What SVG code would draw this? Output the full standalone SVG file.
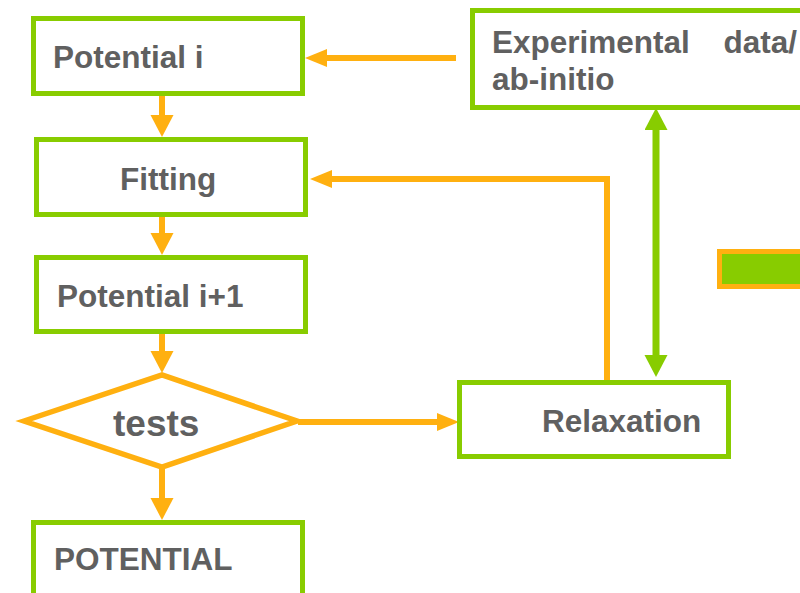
<svg xmlns="http://www.w3.org/2000/svg" width="800" height="593" viewBox="0 0 800 593">
<style>
.box{fill:#fff;stroke:#88CC00;stroke-width:5}
.lbl{font-family:"Liberation Sans",Arial,sans-serif;font-weight:bold;fill:#606060;font-size:31.5px}
.co{fill:none;stroke:#FFB010;stroke-width:6}
.cg{fill:none;stroke:#88CC00;stroke-width:7}
</style>
<defs>
<marker id="ho" markerUnits="userSpaceOnUse" markerWidth="22" markerHeight="24" refX="2" refY="11.5" orient="auto"><path d="M0,0 L22,11.5 L0,23 z" fill="#FFB010"/></marker>
<marker id="hos" markerUnits="userSpaceOnUse" markerWidth="24" markerHeight="20" refX="2" refY="9" orient="auto"><path d="M0,0 L22,9 L0,18 z" fill="#FFB010"/></marker>
<marker id="hg" markerUnits="userSpaceOnUse" markerWidth="22" markerHeight="24" refX="2" refY="11.5" orient="auto-start-reverse"><path d="M0,0 L22,11.5 L0,23 z" fill="#88CC00"/></marker>
</defs>
<rect width="800" height="593" fill="#fff"/>
<g id="connectors">
<line class="co" x1="162" y1="96" x2="162" y2="117" marker-end="url(#ho)"/>
<line class="co" x1="162" y1="217" x2="162" y2="235" marker-end="url(#ho)"/>
<line class="co" x1="162" y1="334" x2="162" y2="353" marker-end="url(#ho)"/>
<line class="co" x1="162" y1="469" x2="162" y2="500" marker-end="url(#ho)"/>
<line class="co" x1="298" y1="422" x2="439" y2="422" marker-end="url(#hos)"/>
<line class="co" x1="456" y1="58" x2="325" y2="58" marker-end="url(#hos)"/>
<polyline class="co" points="607,380 607,179 330,179" marker-end="url(#hos)"/>
<line class="cg" x1="656" y1="128" x2="656" y2="357" marker-start="url(#hg)" marker-end="url(#hg)"/>
</g>
<g id="potential-i">
<rect class="box" x="33.5" y="18.5" width="269" height="75"/>
<text class="lbl" x="53" y="68">Potential i</text>
</g>
<g id="fitting">
<rect class="box" x="36.5" y="139.5" width="269" height="75"/>
<text class="lbl" x="120" y="190">Fitting</text>
</g>
<g id="potential-i1">
<rect class="box" x="36.5" y="257.5" width="269" height="74"/>
<text class="lbl" x="57" y="307">Potential i+1</text>
</g>
<g id="tests">
<polygon points="24,421 162,375 297,421 162,467" fill="#fff" stroke="#FFB010" stroke-width="5.5"/>
<text class="lbl" x="113" y="436" style="font-size:37px">tests</text>
</g>
<g id="potential-final">
<rect class="box" x="33.5" y="522.5" width="269" height="80"/>
<text class="lbl" x="54" y="570">POTENTIAL</text>
</g>
<g id="experimental">
<rect class="box" x="472.5" y="10.5" width="400" height="97"/>
<text class="lbl" x="492" y="53">Experimental</text>
<text class="lbl" x="797" y="53" text-anchor="end">data/</text>
<text class="lbl" x="492" y="90">ab-initio</text>
</g>
<g id="relaxation">
<rect class="box" x="459.5" y="382.5" width="269" height="74"/>
<text class="lbl" x="542" y="432">Relaxation</text>
</g>
<g id="legend">
<rect x="719.5" y="251.5" width="100" height="35" fill="#88CC00" stroke="#FFB010" stroke-width="5"/>
</g>
</svg>
